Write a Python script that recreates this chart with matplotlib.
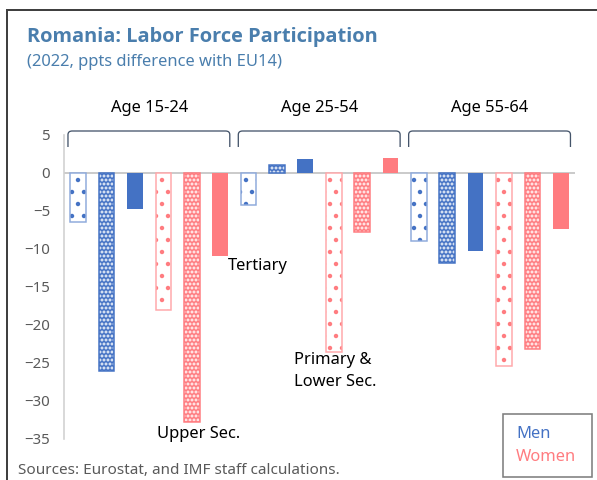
import numpy as np
import matplotlib
matplotlib.use("Agg")
import matplotlib.pyplot as plt
from matplotlib.path import Path
from matplotlib.patches import PathPatch, Rectangle
import matplotlib.transforms as mtransforms

# dpi 72 -> 1 pt == 1 px, keeps hatch dot spacing close to the original
DPI = 72
plt.rcParams['font.family'] = ['Noto Sans', 'DejaVu Sans']
plt.rcParams['hatch.linewidth'] = 2.0

# data (ppts difference with EU14, 2022)
groups = ['Age 15-24', 'Age 25-54', 'Age 55-64']
men_primary = [-6.5, -4.2, -9.0]
men_upper = [-26.1, 1.0, -11.9]
men_tertiary = [-4.7, 1.8, -10.3]
women_primary = [-18.0, -23.5, -25.4]
women_upper = [-32.7, -7.7, -23.2]
women_tertiary = [-10.9, 2.0, -7.4]

BLUE = '#4472C4'
PINK = '#FF7C80'
LIGHT_BLUE = '#8FAADC'
LIGHT_PINK = '#FFA8AA'
TITLE_C = '#4A7EAD'

fig = plt.figure(figsize=(597/DPI, 480/DPI), dpi=DPI)
ax = fig.add_axes([64/597, 1-439/480, (575-64)/597, (439-135)/480])

W = 0.55
g = np.arange(len(groups)) * 6

# sparse dots (primary), dense dots (upper sec.), solid (tertiary)
series = [
    (men_primary, 0, 'sparse', BLUE, LIGHT_BLUE),
    (men_upper, 1, 'dense', BLUE, BLUE),
    (men_tertiary, 2, 'solid', BLUE, BLUE),
    (women_primary, 3, 'sparse', PINK, LIGHT_PINK),
    (women_upper, 4, 'dense', PINK, PINK),
    (women_tertiary, 5, 'solid', PINK, PINK),
]
for vals, k, style, col, edge in series:
    x = g + k
    if style == 'sparse':
        ax.bar(x, vals, W, facecolor='white', edgecolor=col, hatch='.', lw=0, zorder=3)
        ax.bar(x, vals, W, facecolor='none', edgecolor=edge, lw=1.5, zorder=4)
    elif style == 'dense':
        ax.bar(x, vals, W, facecolor=col, edgecolor='white', hatch='...', lw=0, zorder=3)
        ax.bar(x, vals, W, facecolor='none', edgecolor=col, lw=1.5, zorder=4)
    else:
        ax.bar(x, vals, W, color=col, lw=0, zorder=3)

ax.set_xlim(-0.5, 17.5)
ax.set_ylim(-35, 5)
ax.set_yticks(np.arange(-35, 6, 5))
ax.set_xticks([])
ax.axhline(0, color='#BFBFBF', lw=1.6, zorder=2)
for s in ['top', 'right', 'bottom']:
    ax.spines[s].set_visible(False)
ax.spines['left'].set_color('#D0D0D0')
ax.spines['left'].set_linewidth(1.6)
ax.tick_params(axis='y', length=0, pad=14, labelsize=15, labelcolor='#595959')

# group brackets above the bars
trans = mtransforms.blended_transform_factory(ax.transData, ax.transAxes)
ytop = 1 + 4/304
ybot = 1 - 12/304
for i, name in enumerate(groups):
    c = g[i] + 2.5
    x0, x1 = c - 2.86, c + 2.84
    r = 0.15
    verts = [(x0, ybot), (x0, ytop - 0.012), (x0, ytop), (x0 + r, ytop),
             (x1 - r, ytop), (x1, ytop), (x1, ytop - 0.012), (x1, ybot)]
    codes = [Path.MOVETO, Path.LINETO, Path.CURVE3, Path.CURVE3,
             Path.LINETO, Path.CURVE3, Path.CURVE3, Path.LINETO]
    ax.add_patch(PathPatch(Path(verts, codes), transform=trans, fill=False,
                           edgecolor='#44546A', lw=1.3, clip_on=False))
    ax.text(c, 1 + 27/304, name, transform=trans, ha='center', va='center',
            fontsize=16.5, color='black')

# education level annotations
ax.text(5.27, -12.2, 'Tertiary', ha='left', va='center', fontsize=16.5)
ax.text(7.6, -26.1, 'Primary &\nLower Sec.', ha='left', va='center', fontsize=16.5,
        linespacing=1.5)
ax.text(4.25, -34.3, 'Upper Sec.', ha='center', va='center', fontsize=16.5)

# titles and source
fig.text(27/597, 1-37/480, 'Romania: Labor Force Participation', fontsize=20,
         fontweight='bold', family=['Open Sans', 'Lato', 'DejaVu Sans'],
         color=TITLE_C, va='center')
fig.text(27/597, 1-62/480, '(2022, ppts difference with EU14)', fontsize=16.5,
         color=TITLE_C, va='center')
fig.text(18/597, 1-470/480, 'Sources: Eurostat, and IMF staff calculations.',
         fontsize=15.3, color='#595959', va='center')

# outer frame
fig.patches.append(Rectangle((7/597, -0.1), 1.2, 1 - 10/480 + 0.1,
                             transform=fig.transFigure, fill=False,
                             edgecolor='#404040', lw=2))

# legend box (text only)
fig.patches.append(Rectangle((503/597, 1-477/480), 89/597, 63/480,
                             transform=fig.transFigure, fill=False,
                             edgecolor='#7F7F7F', lw=1.6))
fig.text(516/597, 1-434/480, 'Men', fontsize=16.5, color=BLUE, va='center')
fig.text(516/597, 1-457/480, 'Women', fontsize=16.5, color=PINK, va='center')

fig.savefig('out.png', dpi=DPI)
